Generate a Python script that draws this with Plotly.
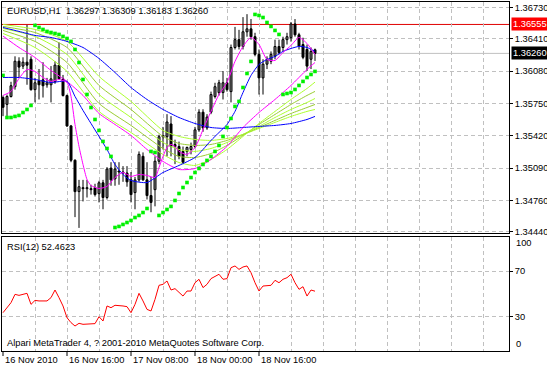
import plotly.graph_objects as go

# ---------------- data (EURUSD H1, bars from 16 Nov 2010 00:00) ----------------
bar = list(range(79))

open_ = [1.3581, 1.3574, 1.3582, 1.3592, 1.3618, 1.3613, 1.3617, 1.3620, 1.3589, 1.3598,
         1.3599, 1.3594, 1.3594, 1.3597, 1.3614, 1.3600, 1.3583, 1.3552, 1.3517, 1.3485,
         1.3489, 1.3488, 1.3488, 1.3489, 1.3483, 1.3494, 1.3479, 1.3509, 1.3498, 1.3506,
         1.3505, 1.3504, 1.3497, 1.3484, 1.3497, 1.3521, 1.3497, 1.3481, 1.3487, 1.3516,
         1.3541, 1.3541, 1.3554, 1.3533, 1.3531, 1.3526, 1.3526, 1.3528, 1.3531, 1.3548,
         1.3566, 1.3550, 1.3566, 1.3582, 1.3586, 1.3586, 1.3596, 1.3587, 1.3632, 1.3640,
         1.3633, 1.3648, 1.3651, 1.3643, 1.3625, 1.3601, 1.3615, 1.3618, 1.3623, 1.3633,
         1.3632, 1.3640, 1.3642, 1.3656, 1.3645, 1.3635, 1.3630, 1.3620, 1.36297]
high = [1.3583, 1.3584, 1.3597, 1.3623, 1.3622, 1.3622, 1.3655, 1.3623, 1.3601, 1.3610,
        1.3617, 1.3601, 1.3613, 1.3618, 1.3637, 1.3604, 1.3584, 1.3553, 1.3518, 1.3497,
        1.3497, 1.3497, 1.3492, 1.3493, 1.3496, 1.3497, 1.3510, 1.3515, 1.3515, 1.3515,
        1.3511, 1.3511, 1.3505, 1.3500, 1.3526, 1.3525, 1.3515, 1.3500, 1.3521, 1.3543,
        1.3551, 1.3564, 1.3562, 1.3538, 1.3536, 1.3531, 1.3531, 1.3535, 1.3551, 1.3569,
        1.3569, 1.3564, 1.3587, 1.3596, 1.3599, 1.3608, 1.3601, 1.3635, 1.3653, 1.3650,
        1.3663, 1.3666, 1.3661, 1.3647, 1.3630, 1.3620, 1.3623, 1.3628, 1.3640, 1.3640,
        1.3643, 1.3647, 1.3658, 1.3661, 1.3647, 1.3642, 1.3635, 1.3632, 1.36309]
low = [1.3562, 1.3562, 1.3581, 1.3589, 1.3601, 1.3610, 1.3594, 1.3588, 1.3576, 1.3579,
       1.3581, 1.3591, 1.3576, 1.3595, 1.3599, 1.3582, 1.3551, 1.3515, 1.3459, 1.3448,
       1.3475, 1.3479, 1.3482, 1.3480, 1.3474, 1.3467, 1.3477, 1.3491, 1.3491, 1.3492,
       1.3495, 1.3490, 1.3474, 1.3467, 1.3495, 1.3496, 1.3477, 1.3464, 1.3470, 1.3513,
       1.3528, 1.3521, 1.3521, 1.3513, 1.3518, 1.3513, 1.3521, 1.3523, 1.3529, 1.3546,
       1.3546, 1.3548, 1.3564, 1.3580, 1.3583, 1.3579, 1.3587, 1.3576, 1.3630, 1.3630,
       1.3630, 1.3643, 1.3640, 1.3623, 1.3584, 1.3584, 1.3610, 1.3615, 1.3620, 1.3625,
       1.3628, 1.3635, 1.3638, 1.3643, 1.3630, 1.3620, 1.3608, 1.3610, 1.36183]
close = [1.3571, 1.3582, 1.3593, 1.3618, 1.3612, 1.3617, 1.3614, 1.3589, 1.3596, 1.3594,
         1.3593, 1.3596, 1.3600, 1.3614, 1.3600, 1.3583, 1.3552, 1.3517, 1.3485, 1.3490,
         1.3488, 1.3489, 1.3487, 1.3482, 1.3494, 1.3479, 1.3508, 1.3497, 1.3508, 1.3505,
         1.3504, 1.3495, 1.3482, 1.3497, 1.3523, 1.3497, 1.3481, 1.3474, 1.3516, 1.3541,
         1.3542, 1.3556, 1.3531, 1.3531, 1.3521, 1.3515, 1.3530, 1.3531, 1.3548, 1.3566,
         1.3550, 1.3561, 1.3584, 1.3592, 1.3596, 1.3596, 1.3589, 1.3632, 1.3640, 1.3633,
         1.3648, 1.3651, 1.3643, 1.3625, 1.3601, 1.3615, 1.3620, 1.3625, 1.3633, 1.3627,
         1.3640, 1.3643, 1.3656, 1.3645, 1.3633, 1.3622, 1.3613, 1.3628, 1.36260]

# slow blue moving average
ma_slow_blue_x = [0, 4, 8, 12, 16, 20, 24, 28, 32, 36, 40, 44, 48, 52, 56, 60, 64, 68, 72, 76, 78]
ma_slow_blue = [1.36524, 1.36484, 1.36443, 1.36422, 1.36382, 1.36320, 1.36208, 1.36065, 1.35912,
                1.35790, 1.35688, 1.35606, 1.35545, 1.35504, 1.35494, 1.35504, 1.35515, 1.35525,
                1.35545, 1.35586, 1.35617]
# fast blue moving average
ma_fast_blue_x = [0, 4, 8, 12, 16, 18, 20, 22, 24, 26, 28, 30, 32, 36, 40, 44, 48, 50, 52, 54,
                  56, 58, 60, 62, 64, 66, 68, 70, 72, 74, 76, 78]
ma_fast_blue = [1.36014, 1.36014, 1.35994, 1.35963, 1.35974, 1.35821, 1.35678, 1.35545, 1.35413,
                1.35280, 1.35127, 1.35025, 1.34964, 1.34943, 1.35045, 1.35117, 1.35198, 1.35280,
                1.35372, 1.35453, 1.35535, 1.35668, 1.35861, 1.36035, 1.36147, 1.36198, 1.36229,
                1.36280, 1.36310, 1.36331, 1.36320, 1.36280]
# fast magenta moving average
ma_fast_mag_x = [0, 2, 4, 6, 8, 10, 12, 14, 16, 17, 18, 19, 20, 21, 22, 24, 26, 28, 30, 32, 34,
                 36, 38, 39, 40, 41, 42, 43, 44, 46, 48, 49, 50, 52, 54, 56, 58, 60, 62, 64, 66,
                 68, 70, 72, 74, 76, 78]
ma_fast_mag = [1.35831, 1.35872, 1.36004, 1.36096, 1.36076, 1.36014, 1.35974, 1.35994, 1.35963,
               1.35821, 1.35535, 1.35311, 1.35127, 1.34974, 1.34913, 1.34882, 1.34903, 1.34994,
               1.35045, 1.35005, 1.35025, 1.35015, 1.34994, 1.35096, 1.35209, 1.35300, 1.35331,
               1.35311, 1.35260, 1.35229, 1.35300, 1.35382, 1.35484, 1.35668, 1.35841, 1.35963,
               1.36178, 1.36331, 1.36422, 1.36351, 1.36198, 1.36188, 1.36269, 1.36341, 1.36422,
               1.36361, 1.36249]
# slow magenta moving average
ma_slow_mag_x = [0, 4, 8, 12, 16, 20, 24, 28, 32, 36, 40, 44, 48, 52, 56, 60, 64, 68, 72, 76, 78]
ma_slow_mag = [1.36436, 1.36320, 1.36218, 1.36086, 1.35974, 1.35831, 1.35647, 1.35535, 1.35423,
               1.35280, 1.35158, 1.35076, 1.35086, 1.35178, 1.35311, 1.35504, 1.35657, 1.35790,
               1.35933, 1.36096, 1.36167]
# fan of yellow-green moving averages (fast -> slow)
fan_x = [0, 8, 16, 24, 32, 40, 44, 48, 52, 56, 60, 64, 68, 72, 76, 78]
fan_1 = [1.36463, 1.36320, 1.36076, 1.35668, 1.35453, 1.35229, 1.35147, 1.35117, 1.35178, 1.35280,
         1.35413, 1.35545, 1.35668, 1.35790, 1.35902, 1.35967]
fan_2 = [1.36494, 1.36382, 1.36167, 1.35749, 1.35525, 1.35290, 1.35209, 1.35198, 1.35239, 1.35321,
         1.35423, 1.35535, 1.35637, 1.35739, 1.35831, 1.35872]
fan_3 = [1.36514, 1.36433, 1.36249, 1.35841, 1.35606, 1.35351, 1.35280, 1.35260, 1.35290, 1.35351,
         1.35433, 1.35515, 1.35606, 1.35688, 1.35759, 1.35800]
fan_4 = [1.36535, 1.36473, 1.36320, 1.35933, 1.35688, 1.35413, 1.35341, 1.35321, 1.35331, 1.35372,
         1.35433, 1.35504, 1.35576, 1.35647, 1.35708, 1.35739]
fan_5 = [1.36555, 1.36504, 1.36382, 1.36025, 1.35770, 1.35474, 1.35413, 1.35382, 1.35372, 1.35392,
         1.35433, 1.35494, 1.35556, 1.35617, 1.35668, 1.35688]
# parabolic SAR, one value per bar
sar = [1.36035, 1.35606, 1.35606, 1.35617, 1.35627, 1.35657, 1.35688, 1.35729,
       1.36545, 1.36524, 1.36504, 1.36484, 1.36473, 1.36463, 1.36453, 1.36433, 1.36412, 1.36382,
       1.36300, 1.36167, 1.35994, 1.35841, 1.35708, 1.35586, 1.35474, 1.35362, 1.35290, 1.35209,
       1.34484, 1.34495, 1.34515, 1.34535, 1.34556, 1.34586, 1.34607, 1.34637, 1.34678,
       1.35260, 1.35249,
       1.34607, 1.34637, 1.34668, 1.34699, 1.34760, 1.34831, 1.34892, 1.34943, 1.34994,
       1.35045, 1.35086, 1.35127, 1.35168, 1.35209, 1.35260, 1.35321, 1.35413, 1.35504,
       1.35596, 1.35719, 1.35770, 1.35912, 1.36055, 1.36178,
       1.36657, 1.36647, 1.36626, 1.36575, 1.36535, 1.36494, 1.36453,
       1.35841, 1.35851, 1.35861, 1.35892, 1.35933, 1.35974, 1.36014, 1.36045, 1.36076]
# RSI(12), one value per bar
rsi = [33.6, 38.0, 42.4, 49.7, 48.8, 49.7, 50.6, 40.9, 44.4, 43.9,
       43.9, 43.9, 46.8, 53.5, 46.8, 39.5, 29.2, 24.9, 21.9, 24.3,
       23.4, 23.4, 23.4, 24.0, 30.1, 26.3, 39.5, 38.0, 40.1, 40.1,
       39.5, 38.9, 33.6, 40.9, 50.6, 43.9, 36.5, 35.1, 45.3, 57.6,
       58.5, 61.4, 53.5, 54.7, 51.2, 48.2, 52.6, 52.6, 59.9, 62.9,
       55.6, 58.5, 63.5, 65.2, 67.3, 62.9, 63.5, 73.1, 74.6, 71.6,
       73.7, 74.6, 68.7, 59.9, 52.6, 57.0, 57.0, 57.6, 62.0, 59.9,
       62.9, 64.3, 67.3, 59.9, 54.1, 56.4, 48.2, 53.5, 52.4623]

time_tick_bars = [0, 16, 32, 48, 64]
time_tick_labels = ["16 Nov 2010", "16 Nov 16:00", "17 Nov 08:00", "18 Nov 00:00", "18 Nov 16:00"]
grid_bars = list(range(0, 121, 8))
price_ticks = [1.36730, 1.36410, 1.36080, 1.35750, 1.35420, 1.35090, 1.34760, 1.34440]
rsi_ticks = [30, 70]
hline_price = 1.36555
bid_price = 1.36260
title_text = "EURUSD,H1  1.36297 1.36309 1.36183 1.36260"
rsi_text = "RSI(12) 52.4623"
copyright_text = "Alpari MetaTrader 4, ? 2001-2010 MetaQuotes Software Corp."

# ---------------- layout geometry (547 x 368) ----------------
W, H = 547, 368
def px_x(p):
    return p / W
def px_y(p):
    return (H - p) / H

FONT = "Liberation Sans, Arial, sans-serif"
FS = 9.3
GRID = "#C0C0C0"
DASH = "4px,3px"
FAN_COLORS = ["#ADFF2F", "#9ACD32", "#ADFF2F", "#9ACD32", "#ADFF2F"]

fig = go.Figure()

# candle wicks
wx, wy = [], []
for i, h, l in zip(bar, high, low):
    wx += [i, i, None]
    wy += [l, h, None]
fig.add_trace(go.Scatter(x=wx, y=wy, mode="lines", line=dict(color="black", width=1),
                         xaxis="x", yaxis="y", hoverinfo="skip", showlegend=False))
# candle bodies
bases = [min(o, c) for o, c in zip(open_, close)]
heights = [max(abs(c - o), 0.00001) for o, c in zip(open_, close)]
colors = ["white" if c >= o else "black" for o, c in zip(open_, close)]
fig.add_trace(go.Bar(x=bar, y=heights, base=bases, width=0.5,
                     marker=dict(color=colors, line=dict(color="black", width=1)),
                     xaxis="x", yaxis="y", hoverinfo="skip", showlegend=False))

# moving averages
for xs, ys, col in [(fan_x, fan_5, FAN_COLORS[4]), (fan_x, fan_4, FAN_COLORS[3]),
                    (fan_x, fan_3, FAN_COLORS[2]), (fan_x, fan_2, FAN_COLORS[1]),
                    (fan_x, fan_1, FAN_COLORS[0]),
                    (ma_slow_blue_x, ma_slow_blue, "#0000FF"),
                    (ma_slow_mag_x, ma_slow_mag, "#FF00FF"),
                    (ma_fast_blue_x, ma_fast_blue, "#0000FF"),
                    (ma_fast_mag_x, ma_fast_mag, "#FF00FF")]:
    fig.add_trace(go.Scatter(x=xs, y=ys, mode="lines", line=dict(color=col, width=1, shape="spline", smoothing=0.6),
                             xaxis="x", yaxis="y", hoverinfo="skip", showlegend=False))

# parabolic SAR
fig.add_trace(go.Scatter(x=bar, y=sar, mode="markers",
                         marker=dict(symbol="square", size=3.6, color="#00F000", line=dict(width=0)),
                         xaxis="x", yaxis="y", hoverinfo="skip", showlegend=False))

# RSI
fig.add_trace(go.Scatter(x=bar, y=rsi, mode="lines", line=dict(color="#FF0000", width=1),
                         xaxis="x2", yaxis="y2", hoverinfo="skip", showlegend=False))

xdom = [px_x(2), px_x(509)]
xrange_ = [-0.25, 126.5]
common_x = dict(domain=xdom, range=xrange_, showgrid=True, gridcolor=GRID, griddash=DASH,
                gridwidth=1, tickvals=grid_bars, showticklabels=False, ticks="",
                zeroline=False, showline=True, mirror=True, linecolor="black", linewidth=1,
                fixedrange=True)
tickfont = dict(family=FONT, size=FS, color="black")

fig.update_layout(
    width=W, height=H, margin=dict(l=0, r=0, t=0, b=0),
    paper_bgcolor="white", plot_bgcolor="white", showlegend=False,
    barmode="overlay", bargap=0, hovermode=False,
    xaxis=dict(anchor="y", **common_x),
    xaxis2=dict(anchor="y2", **common_x),
    yaxis=dict(domain=[px_y(233), px_y(2)], range=[1.34428, 1.36784], side="right", anchor="x",
               tickvals=price_ticks, ticktext=["%.5f" % v for v in price_ticks],
               showgrid=True, gridcolor=GRID, griddash=DASH, gridwidth=1,
               ticks="outside", ticklen=3, tickcolor="black", tickwidth=1, tickfont=tickfont,
               zeroline=False, showline=True, mirror=True, linecolor="black", linewidth=1,
               automargin=False, fixedrange=True),
    yaxis2=dict(domain=[px_y(351), px_y(237)], range=[0, 100], side="right", anchor="x2",
                tickvals=rsi_ticks, ticktext=[str(v) for v in rsi_ticks],
                showgrid=True, gridcolor=GRID, griddash=DASH, gridwidth=1,
                ticks="outside", ticklen=3, tickcolor="black", tickwidth=1, tickfont=tickfont,
                zeroline=False, showline=True, mirror=True, linecolor="black", linewidth=1,
                automargin=False, fixedrange=True),
)

shapes = [
    dict(type="line", xref="paper", yref="y", x0=xdom[0], x1=xdom[1], y0=bid_price, y1=bid_price,
         line=dict(color="#C0C0C0", width=1), layer="below"),
    dict(type="line", xref="paper", yref="y", x0=xdom[0], x1=xdom[1], y0=hline_price, y1=hline_price,
         line=dict(color="#E00000", width=1), layer="below"),
]
for b in time_tick_bars:
    shapes.append(dict(type="line", xref="x2", yref="paper", x0=b, x1=b, y0=px_y(351), y1=px_y(356),
                       line=dict(color="black", width=1)))
fig.update_layout(shapes=shapes)

ann = [
    dict(text=title_text, x=px_x(5), y=px_y(11), xref="paper", yref="paper",
         xanchor="left", yanchor="middle", showarrow=False, font=tickfont),
    dict(text=rsi_text, x=px_x(5), y=px_y(246.5), xref="paper", yref="paper",
         xanchor="left", yanchor="middle", showarrow=False, font=tickfont),
    dict(text=copyright_text, x=px_x(5), y=px_y(343), xref="paper", yref="paper",
         xanchor="left", yanchor="middle", showarrow=False, font=tickfont),
    dict(text="100", x=px_x(514), y=px_y(243), xref="paper", yref="paper",
         xanchor="left", yanchor="middle", showarrow=False, font=tickfont),
    dict(text="0", x=px_x(514), y=px_y(344), xref="paper", yref="paper",
         xanchor="left", yanchor="middle", showarrow=False, font=tickfont),
    dict(text="%.5f" % hline_price, x=px_x(511), y=hline_price, xref="paper", yref="y",
         xanchor="left", yanchor="middle", showarrow=False, bgcolor="#FF0000", borderpad=1,
         font=dict(family=FONT, size=FS, color="white")),
    dict(text="%.5f" % bid_price, x=px_x(511), y=bid_price, xref="paper", yref="y",
         xanchor="left", yanchor="middle", showarrow=False, bgcolor="black", borderpad=1,
         font=dict(family=FONT, size=FS, color="white")),
]
for b, lab in zip(time_tick_bars, time_tick_labels):
    ann.append(dict(text=lab, x=b, y=px_y(359.5), xref="x2", yref="paper", xanchor="left",
                    yanchor="middle", xshift=0, showarrow=False, font=tickfont))
fig.update_layout(annotations=ann)

fig.write_html("out.html", config={"displayModeBar": False, "staticPlot": True})
